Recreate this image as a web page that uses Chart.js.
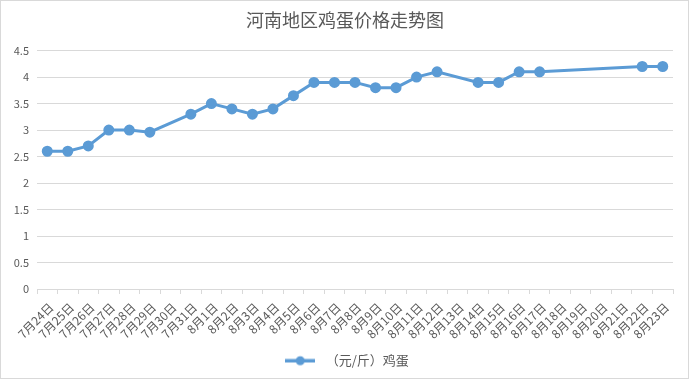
<!DOCTYPE html>
<html><head><meta charset="utf-8">
<script src="https://cdn.jsdelivr.net/npm/chart.js@4/dist/chart.umd.min.js"></script>
<style>html,body{margin:0;padding:0;background:#fff}#wrap{width:690px;height:380px;position:relative}</style>
</head><body><div id="wrap"><canvas id="c" width="690" height="380"></canvas></div>
<script>
const categories = ['7月24日','7月25日','7月26日','7月27日','7月28日','7月29日','7月30日','7月31日','8月1日','8月2日','8月3日','8月4日','8月5日','8月6日','8月7日','8月8日','8月9日','8月10日','8月11日','8月12日','8月13日','8月14日','8月15日','8月16日','8月17日','8月18日','8月19日','8月20日','8月21日','8月22日','8月23日'];
const eggPrice = [2.6,2.6,2.7,3.0,3.0,2.96,null,3.3,3.5,3.4,3.3,3.4,3.65,3.9,3.9,3.9,3.8,3.8,4.0,4.1,null,3.9,3.9,4.1,4.1,null,null,null,null,4.2,4.2];
const seriesName = '（元/斤）鸡蛋';
const chartTitle = '河南地区鸡蛋价格走势图';

const COLOR = '#5B9BD5';
const TXT = '#595959';
const FONT = "'Noto Sans CJK SC', 'Noto Sans', sans-serif";

const mk = document.createElement('canvas');
mk.width = 30; mk.height = 12;
(function(){const g = mk.getContext('2d');g.fillStyle=COLOR;g.fillRect(0,4.5,30,3.5);g.beginPath();g.arc(15,6.2,4.5,0,Math.PI*2);g.fill();})();

const borderPlugin = {
  id:'bg',
  beforeDraw(chart){const c=chart.ctx;c.save();c.fillStyle='#fff';c.fillRect(0,0,chart.width,chart.height);c.strokeStyle='#d9d9d9';c.lineWidth=1;c.strokeRect(0.5,0.5,chart.width-2,chart.height-2);c.restore();}
};

new Chart(document.getElementById('c'), {
  type:'line',
  data:{labels:categories,datasets:[{label:seriesName,data:eggPrice,borderColor:COLOR,backgroundColor:COLOR,borderWidth:3,pointRadius:4,pointHoverRadius:4,pointBackgroundColor:COLOR,pointBorderColor:COLOR,spanGaps:true,tension:0,yAxisID:'y'}]},
  options:{
    responsive:false,animation:false,
    layout:{padding:{left:0,right:0,top:0,bottom:3}},
    plugins:{
      title:{display:true,text:chartTitle,color:TXT,font:{family:FONT,size:18,weight:'normal',lineHeight:1.2},padding:{top:9,bottom:20}},
      legend:{position:'bottom',labels:{color:TXT,font:{family:FONT,size:13},usePointStyle:true,pointStyleWidth:38,padding:10,
        generateLabels(chart){return [{text:seriesName,pointStyle:mk,fontColor:TXT,strokeStyle:COLOR,fillStyle:COLOR,lineWidth:0,datasetIndex:0,hidden:false}];}}},
      tooltip:{enabled:false}
    },
    scales:{
      x:{offset:true,
        grid:{offset:true,drawOnChartArea:false,color:'#d9d9d9',tickLength:5},
        border:{color:'#d9d9d9'},
        ticks:{color:TXT,font:{family:FONT,size:12},minRotation:45,maxRotation:45,autoSkip:false,padding:6,labelOffset:4},
        afterFit(s){s.height = s.chart.height - s.chart.legend.height - 3 - 289;}
      },
      y:{min:0,max:4.5,
        grid:{color:'#d9d9d9',drawTicks:false},
        border:{display:false},
        ticks:{stepSize:0.5,color:TXT,font:{family:FONT,size:11},padding:8,callback:v=>String(Math.round(v*10)/10)},
        afterFit(s){s.width = 37;}
      },
      yr:{position:'right',display:true,min:0,max:4.5,
        grid:{drawOnChartArea:false,drawTicks:false},border:{display:false},
        ticks:{display:false},
        afterFit(s){s.width = 17;}
      }
    }
  },
  plugins:[borderPlugin]
});
</script></body></html>
